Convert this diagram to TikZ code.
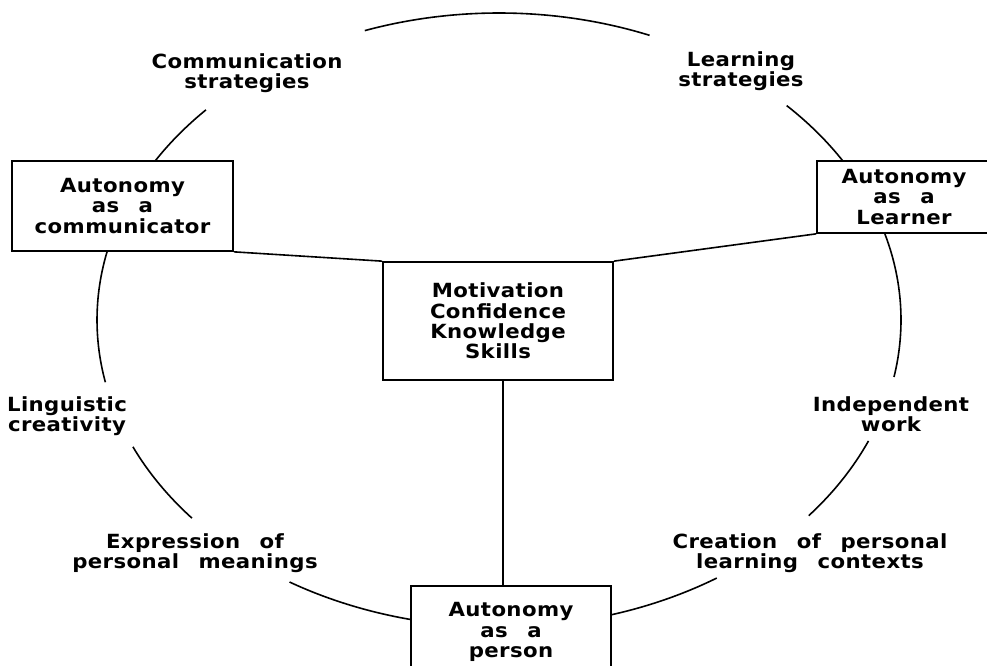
\documentclass[tikz,border=0pt]{standalone}
\usepackage{fontspec}
\usetikzlibrary{backgrounds}
\newfontfamily\dfont{DejaVu Sans}[LetterSpace=2,WordSpace=2.5,FakeStretch=1.09]
\begin{document}
\begin{tikzpicture}[x=1pt,y=1pt,
  lab/.style={font=\dfont\bfseries\fontsize{19.5}{20.3}\selectfont, align=center, inner sep=0pt},
  box/.style={lab, draw, line width=1.7pt, fill=white},
  ring/.style={line width=1.6pt},
  link/.style={line width=1.6pt}]
\useasboundingbox (0,0) rectangle (987,665);
\coordinate (C) at (499,345);
% boxes
\node[box, minimum width=221pt, minimum height=90pt] (comm) at (122.5,459) {Autonomy\\as a\\communicator};
\node[box, minimum width=174pt, minimum height=72pt] (learner) at (904,468) {Autonomy\\as a\\Learner};
\node[box, minimum width=230pt, minimum height=118pt] (core) at (498,344) {Motivation\\Confidence\\Knowledge\\Skills};
\node[box, minimum width=200pt, minimum height=92pt] (person) at (511,33) {Autonomy\\as a\\person};
% labels
\node[lab] (lcomm) at (247,592) {Communication\\strategies};
\node[lab] (llearn) at (741,594) {Learning\\strategies};
\node[lab] (lling) at (67,249) {Linguistic\\creativity};
\node[lab] (lexpr) at (195,112) {Expression of\\personal meanings};
\node[lab] (lindep) at (891,251) {Independent\\work};
\node[lab] (lcreate) at (810,112) {Creation of personal\\learning contexts};
\begin{pgfonlayer}{background}
\foreach \a/\b in {68/109.5, 136.8/150, 165/191.7, 204.4/220.2, 238.6/260, 284/302.8, 320.4/336.8, 349.3/378, 29/44.3}
  \draw[ring] (C) ++(\a:402pt and 307pt) arc[start angle=\a, end angle=\b, x radius=402pt, y radius=307pt];
\draw[link] (comm.south east) -- (core.north west);
\draw[link] (learner.south west) -- (core.north east);
\coordinate (cs) at ([xshift=5pt]core.south);
\draw[link] (cs) -- (cs |- person.north);
\end{pgfonlayer}
\end{tikzpicture}
\end{document}
